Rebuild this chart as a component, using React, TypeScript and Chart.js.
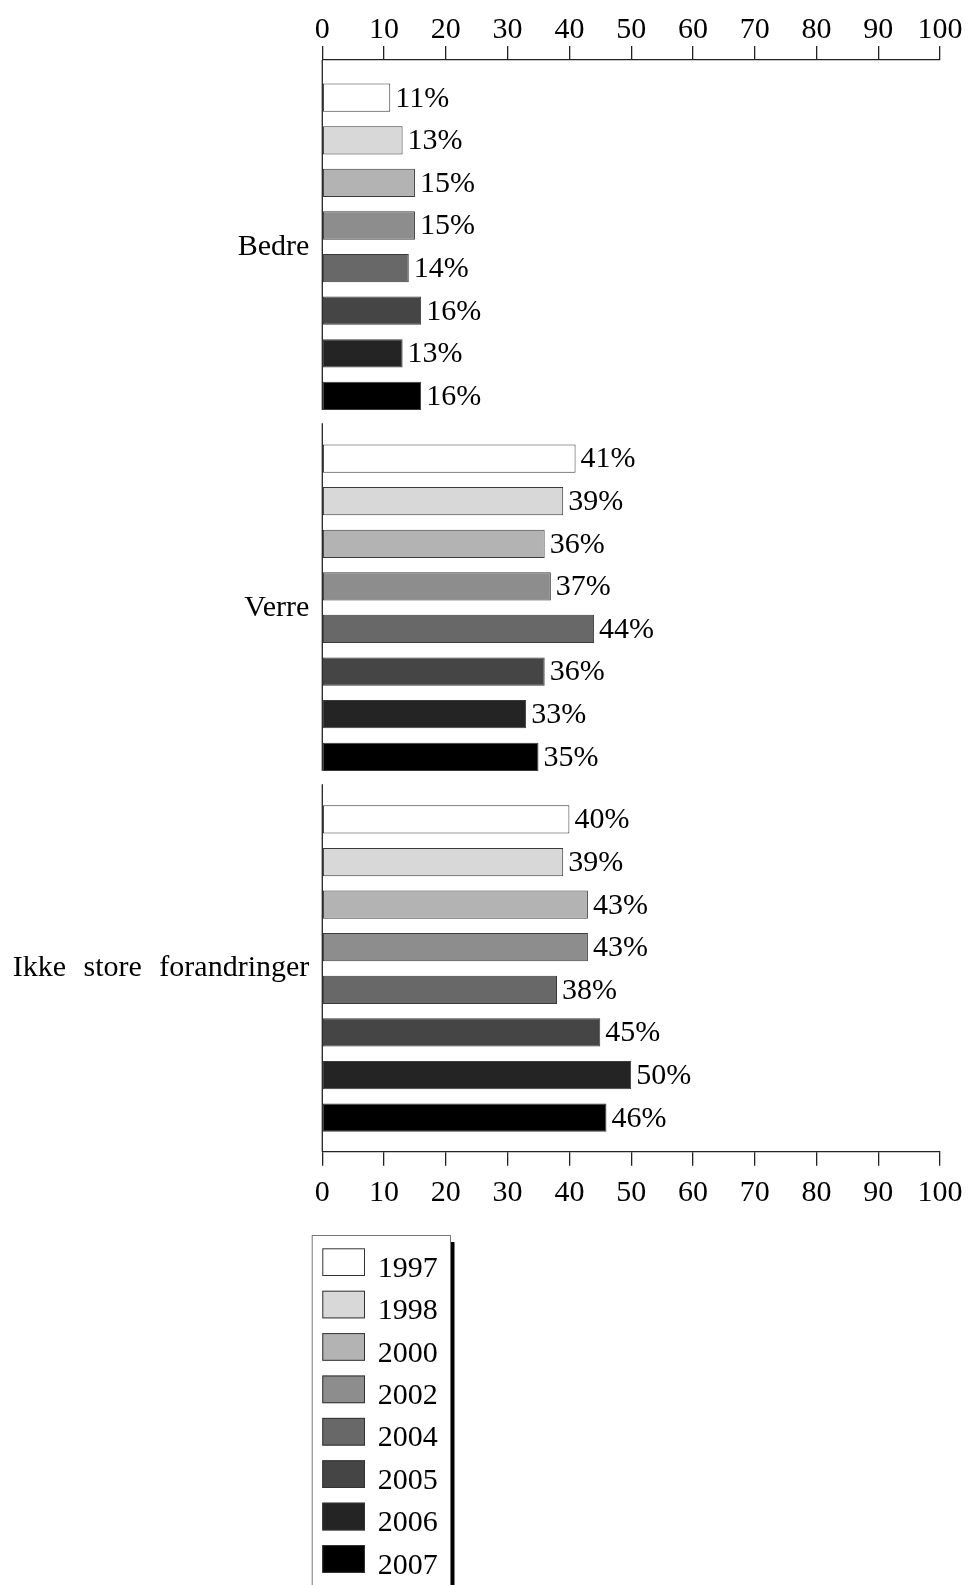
import React, { useEffect, useRef } from 'react';
import { Chart, registerables } from 'chart.js';

Chart.register(...registerables);

const categories = ['Bedre', 'Verre', 'Ikke store forandringer'];
const years = ['1997', '1998', '2000', '2002', '2004', '2005', '2006', '2007'];
const v1997 = [11, 41, 40];
const v1998 = [13, 39, 39];
const v2000 = [15, 36, 43];
const v2002 = [15, 37, 43];
const v2004 = [14, 44, 38];
const v2005 = [16, 36, 45];
const v2006 = [13, 33, 50];
const v2007 = [16, 35, 46];
const seriesValues = [v1997, v1998, v2000, v2002, v2004, v2005, v2006, v2007];
const xTicks = [0, 10, 20, 30, 40, 50, 60, 70, 80, 90, 100];

const colors = ['#ffffff', '#d8d8d8', '#b3b3b3', '#8d8d8d', '#686868', '#454545', '#242424', '#000000'];
const FONT = "'Liberation Serif', 'Times New Roman', Times, serif";
const AXIS_COLOR = '#222222';

const wordSpacingPlugin = {
  id: 'wordSpacing',
  beforeDraw(chart: any) {
    (chart.ctx as any).wordSpacing = '10px';
  },
};

const brokenAxisPlugin = {
  id: 'brokenAxis',
  afterDatasetsDraw(chart: any) {
    const { ctx, chartArea, scales } = chart;
    const y = scales.y;
    ctx.save();
    ctx.strokeStyle = AXIS_COLOR;
    ctx.lineWidth = 1.3;
    categories.forEach((_, i) => {
      const top = i === 0 ? chartArea.top : y.getPixelForValue(i - 0.511);
      const bottom = i === categories.length - 1 ? chartArea.bottom : y.getPixelForValue(i + 0.452);
      ctx.beginPath();
      ctx.moveTo(chartArea.left, top);
      ctx.lineTo(chartArea.left, bottom);
      ctx.stroke();
    });
    ctx.restore();
  },
};

const valueLabelPlugin = {
  id: 'valueLabels',
  afterDatasetsDraw(chart: any) {
    const ctx = chart.ctx;
    ctx.save();
    ctx.font = `30px ${FONT}`;
    ctx.fillStyle = '#000';
    ctx.textAlign = 'left';
    ctx.textBaseline = 'middle';
    chart.data.datasets.forEach((_: any, i: number) => {
      const meta = chart.getDatasetMeta(i);
      meta.data.forEach((el: any, j: number) => {
        ctx.fillText(`${seriesValues[i][j]}%`, el.x + 5, el.y + 1);
      });
    });
    ctx.restore();
  },
};

const boxLegendPlugin = {
  id: 'boxLegend',
  afterDraw(chart: any) {
    const ctx = chart.ctx;
    const left = 311.7;
    const top = 1235;
    const right = 450;
    const bottom = chart.height + 10;
    ctx.save();
    ctx.fillStyle = '#000';
    ctx.fillRect(right, top + 7, 4.5, bottom - top);
    ctx.fillStyle = '#fff';
    ctx.fillRect(left, top, right - left, bottom - top);
    ctx.strokeStyle = '#777';
    ctx.lineWidth = 1;
    ctx.strokeRect(left + 0.5, top + 0.5, right - left, bottom - top);
    chart.data.datasets.forEach((ds: any, i: number) => {
      const sy = 1248.3 + i * 42.4;
      ctx.fillStyle = ds.backgroundColor;
      ctx.fillRect(322.3, sy, 42.7, 27.7);
      ctx.strokeStyle = '#333';
      ctx.lineWidth = 1;
      ctx.strokeRect(322.8, sy + 0.5, 41.7, 26.7);
      ctx.fillStyle = '#000';
      ctx.font = `30px ${FONT}`;
      ctx.textBaseline = 'alphabetic';
      ctx.textAlign = 'left';
      ctx.fillText(ds.label, 377.7, sy + 28.4);
    });
    ctx.restore();
  },
};

export default function App() {
  const canvasRef = useRef<HTMLCanvasElement | null>(null);

  useEffect(() => {
    if (!canvasRef.current) return;
    const xAxisBase = (position: 'top' | 'bottom', height: number, padding: number) => ({
      type: 'linear' as const,
      position,
      min: 0,
      max: 100,
      offset: false,
      afterBuildTicks: (s: any) => {
        s.ticks = xTicks.map((v) => ({ value: v }));
      },
      afterFit: (s: any) => {
        s.height = height;
        s.paddingLeft = 0;
        s.paddingRight = 0;
      },
      grid: {
        display: true,
        offset: false,
        drawOnChartArea: false,
        drawTicks: true,
        tickLength: 14,
        color: AXIS_COLOR,
        lineWidth: 1.3,
      },
      border: { display: true, color: AXIS_COLOR, width: 1.3 },
      ticks: {
        padding,
        color: '#000',
        maxRotation: 0,
        autoSkip: false,
        font: { family: FONT, size: 30, lineHeight: 1 },
      },
    });

    const chart = new Chart(canvasRef.current, {
      type: 'bar',
      data: {
        datasets: years.map((yr, i) => ({
          label: yr,
          data: seriesValues[i].map((v, j) => ({ x: v, y: j })),
          backgroundColor: colors[i],
          borderColor: '#3a3a3a',
          borderWidth: 1,
          borderSkipped: false,
          categoryPercentage: 0.9444,
          barPercentage: 0.664,
        })),
      },
      options: {
        indexAxis: 'y',
        responsive: false,
        animation: false,
        layout: { padding: { left: 0, right: 30, top: 0, bottom: 0 } },
        plugins: {
          legend: { display: false },
          tooltip: { enabled: false },
        },
        scales: {
          y: {
            type: 'linear',
            position: 'left',
            reverse: true,
            offset: false,
            min: -0.5177,
            max: 2.5076,
            bounds: 'data',
            afterBuildTicks: (s: any) => {
              s.ticks = categories.map((_, i) => ({ value: i }));
            },
            afterFit: (s: any) => {
              s.width = 322.3;
              s.paddingTop = 0;
              s.paddingBottom = 0;
            },
            grid: { display: false, drawTicks: false, offset: false },
            border: { display: false },
            ticks: {
              padding: 13,
              color: '#000',
              autoSkip: false,
              font: { family: FONT, size: 30 },
              callback: (v: any) => categories[v as number] ?? '',
            },
          },
          x: xAxisBase('bottom', 1585 - 1151.7, 12),
          x2: xAxisBase('top', 60, 0.5),
        } as any,
      },
      plugins: [wordSpacingPlugin, brokenAxisPlugin, valueLabelPlugin, boxLegendPlugin],
    } as any);
    return () => chart.destroy();
  }, []);

  return (
    <div style={{ position: 'absolute', left: 0, top: 0, width: 970, height: 1585, background: '#fff' }}>
      <canvas ref={canvasRef} width={970} height={1585} style={{ display: 'block' }} />
    </div>
  );
}
